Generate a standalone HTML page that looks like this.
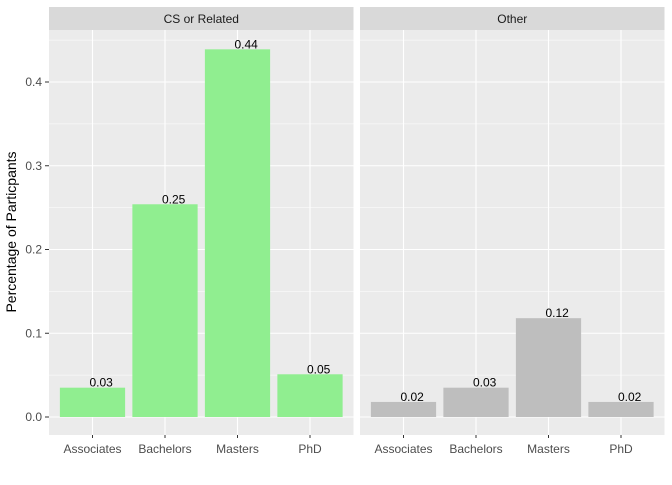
<!DOCTYPE html>
<html><head><meta charset="utf-8"><style>
body{margin:0;background:#fff}
text{font-family:"Liberation Sans",Arial,sans-serif}
</style></head><body>
<svg id="chart" width="672" height="480" xmlns="http://www.w3.org/2000/svg"></svg>
<script>
const categories = ["Associates","Bachelors","Masters","PhD"];
const facets = ["CS or Related","Other"];
const csValues = [0.035,0.254,0.439,0.051];
const otherValues = [0.018,0.035,0.118,0.018];
const csLabels = ["0.03","0.25","0.44","0.05"];
const otherLabels = ["0.02","0.03","0.12","0.02"];
const yTicks = [0,0.1,0.2,0.3,0.4];
const yTickLabels = ["0.0","0.1","0.2","0.3","0.4"];

const NS="http://www.w3.org/2000/svg";
const svg=document.getElementById('chart');
function mk(t,a,p){const e=document.createElementNS(NS,t);for(const k in a)e.setAttribute(k,a[k]);(p||svg).appendChild(e);return e;}
const plotTop=30,plotBottom=435;
const y=v=>417-v*837.5;
const panels=[{x0:49,x1:353.5,vals:csValues,labs:csLabels,fill:"#90EE90",name:"cs"},
              {x0:360,x1:664.5,vals:otherValues,labs:otherLabels,fill:"#BEBEBE",name:"other"}];
panels.forEach((p,pi)=>{
  const w=p.x1-p.x0;
  const unit=w/4.2;
  const x=i=>p.x0+(i+1-0.4)*unit;
  const g=mk('g',{});
  
  
  const bg=mk('rect',{x:p.x0,y:plotTop,width:w,height:plotBottom-plotTop,fill:"#EBEBEB"},g);
  
  
  yTicks.forEach((t,i)=>{
    const m=t+0.05; if(y(m)>plotTop) mk('line',{x1:p.x0,x2:p.x1,y1:y(m),y2:y(m),stroke:"#fff","stroke-width":0.6},g);
    const l=mk('line',{x1:p.x0,x2:p.x1,y1:y(t),y2:y(t),stroke:"#fff","stroke-width":1.1},g);
    
    
  });
  categories.forEach((c,i)=>{
    mk('line',{x1:x(i),x2:x(i),y1:plotTop,y2:plotBottom,stroke:"#fff","stroke-width":1.1},g);
  });
  categories.forEach((c,i)=>{
    const bw=unit*0.9;
    const b=mk('rect',{x:x(i)-bw/2,y:y(p.vals[i]),width:bw,height:y(0)-y(p.vals[i]),fill:p.fill},g);
    
    
    const lt=mk('text',{x:x(i)-3,y:y(p.vals[i])-1,"font-size":12,fill:"#000"},g);
    lt.textContent=p.labs[i];
    
    
    mk('line',{x1:x(i),x2:x(i),y1:plotBottom,y2:plotBottom+3,stroke:"#333","stroke-width":1},g);
    const xl=mk('text',{x:x(i),y:453,"font-size":12,fill:"#4D4D4D","text-anchor":"middle"},g);
    xl.textContent=c;
    
    
  });
  const st=mk('rect',{x:p.x0,y:7,width:w,height:23,fill:"#D9D9D9"},g);
  
  
  const stt=mk('text',{x:(p.x0+p.x1)/2,y:23,"font-size":12,fill:"#1A1A1A","text-anchor":"middle"},g);
  stt.textContent=facets[pi];
  
  
});
yTicks.forEach((t,i)=>{
  mk('line',{x1:45,x2:49,y1:y(t),y2:y(t),stroke:"#333","stroke-width":1});
  const tl=mk('text',{x:42,y:y(t)+4,"font-size":12,fill:"#4D4D4D","text-anchor":"end"});
  tl.textContent=yTickLabels[i];
  
  
});
const yt=mk('text',{x:0,y:0,"font-size":14,fill:"#000","text-anchor":"middle",transform:"translate(16,232) rotate(-90)"});
yt.textContent="Percentage of Particpants";


</script>
</body></html>
